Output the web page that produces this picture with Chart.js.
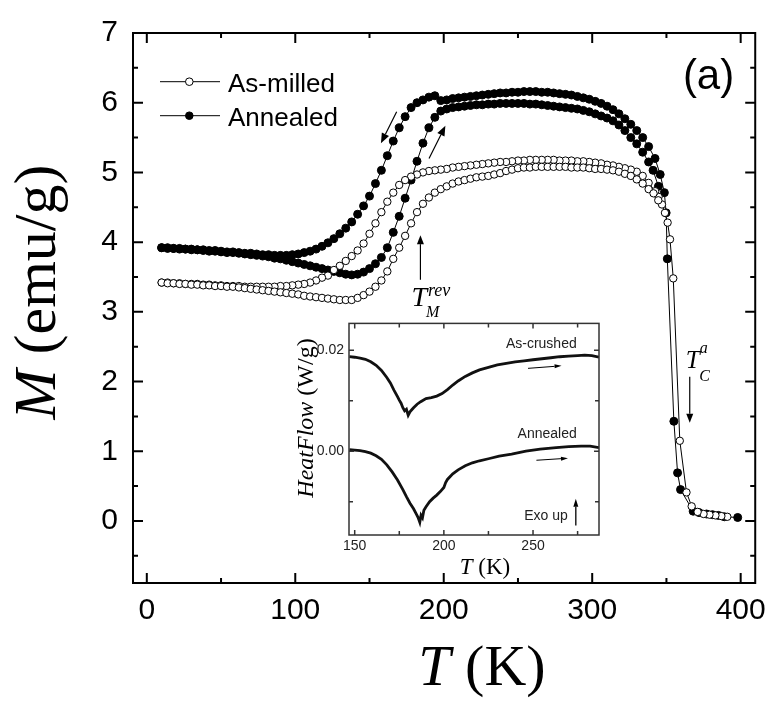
<!DOCTYPE html>
<html>
<head>
<meta charset="utf-8">
<script src="https://cdn.jsdelivr.net/npm/chart.js@4.4.0/dist/chart.umd.min.js"></script>
<style>
  body { margin: 0; background: #fff; overflow: hidden; }
  #wrap { position: relative; width: 776px; height: 701px; }
  #mainChart { position: absolute; left: 0; top: 0; }
  #insetChart { position: absolute; left: 290px; top: 310px; }
</style>
</head>
<body>
<div id="wrap">
  <canvas id="mainChart" width="776" height="701"></canvas>
  <canvas id="insetChart" width="320" height="280"></canvas>
</div>
<script>
// temperature grid of the warming / cooling sweeps below Tc (K)
const tempGrid = [
  10, 14, 18, 22, 26, 30, 34, 38, 42, 46,
  50, 54, 58, 62, 66, 70, 74, 78, 82, 86,
  90, 94, 98, 102, 106, 110, 114, 118, 122, 126,
  130, 134, 138, 142, 146, 150, 154, 158, 162, 166,
  170, 174, 178, 182, 186, 190, 194, 198, 202, 206,
  210, 214, 218, 222, 226, 230, 234, 238, 242, 246,
  250, 254, 258, 262, 266, 270, 274, 278, 282, 286,
  290, 294, 298, 302, 306, 310, 314, 318, 322, 326,
  330, 334, 338
];

// magnetization (emu/g) on tempGrid
const milledCoolM = [
  3.42, 3.42, 3.41, 3.41, 3.40, 3.40, 3.40, 3.39, 3.39, 3.38,
  3.38, 3.37, 3.37, 3.37, 3.36, 3.36, 3.36, 3.36, 3.36, 3.36,
  3.37, 3.37, 3.38, 3.39, 3.40, 3.42, 3.45, 3.49, 3.52, 3.60,
  3.66, 3.73, 3.80, 3.88, 3.98, 4.12, 4.27, 4.43, 4.58, 4.71,
  4.82, 4.89, 4.94, 4.97, 5.00, 5.02, 5.03, 5.04, 5.05, 5.07,
  5.08, 5.09, 5.10, 5.11, 5.12, 5.13, 5.14, 5.15, 5.15, 5.16,
  5.17, 5.17, 5.18, 5.18, 5.18, 5.18, 5.18, 5.17, 5.17, 5.17,
  5.16, 5.16, 5.15, 5.14, 5.13, 5.11, 5.10, 5.08, 5.06, 5.04,
  5.01, 4.95, 4.85
];
const milledHeatM = [
  3.42, 3.41, 3.41, 3.40, 3.40, 3.39, 3.39, 3.38, 3.38, 3.37,
  3.37, 3.36, 3.36, 3.35, 3.34, 3.33, 3.32, 3.31, 3.30, 3.29,
  3.28, 3.27, 3.26, 3.25, 3.23, 3.22, 3.21, 3.20, 3.19, 3.18,
  3.17, 3.17, 3.17, 3.20, 3.24, 3.29, 3.36, 3.45, 3.58, 3.76,
  3.92, 4.09, 4.27, 4.43, 4.55, 4.64, 4.71, 4.76, 4.80, 4.84,
  4.87, 4.89, 4.91, 4.93, 4.94, 4.95, 4.97, 4.99, 5.02, 5.04,
  5.06, 5.07, 5.07, 5.08, 5.08, 5.08, 5.08, 5.08, 5.08, 5.07,
  5.07, 5.07, 5.06, 5.05, 5.05, 5.04, 5.03, 5.01, 4.98, 4.95,
  4.90, 4.84, 4.76
];
const annealedCoolM = [
  3.92, 3.92, 3.91, 3.91, 3.90, 3.90, 3.89, 3.89, 3.88, 3.88,
  3.87, 3.86, 3.86, 3.85, 3.84, 3.84, 3.83, 3.82, 3.82, 3.81,
  3.81, 3.81, 3.82, 3.83, 3.85, 3.87, 3.90, 3.94, 3.99, 4.05,
  4.12, 4.20, 4.29, 4.40, 4.52, 4.66, 4.84, 5.03, 5.24, 5.45,
  5.64, 5.80, 5.93, 6.00, 6.04, 6.08, 6.10, 6.03, 6.04, 6.06,
  6.07, 6.08, 6.09, 6.10, 6.11, 6.12, 6.13, 6.14, 6.14, 6.15,
  6.15, 6.16, 6.16, 6.16, 6.15, 6.15, 6.14, 6.13, 6.12, 6.11,
  6.09, 6.07, 6.05, 6.02, 5.99, 5.95, 5.90, 5.84, 5.77, 5.69,
  5.60, 5.50, 5.37
];
const annealedHeatM = [
  3.92, 3.91, 3.91, 3.90, 3.90, 3.89, 3.89, 3.88, 3.87, 3.87,
  3.86, 3.85, 3.85, 3.84, 3.83, 3.82, 3.81, 3.80, 3.79, 3.77,
  3.76, 3.74, 3.72, 3.70, 3.68, 3.66, 3.64, 3.62, 3.60, 3.58,
  3.56, 3.54, 3.53, 3.54, 3.57, 3.62, 3.69, 3.78, 3.92, 4.14,
  4.37, 4.63, 4.89, 5.16, 5.42, 5.64, 5.79, 5.88, 5.91, 5.93,
  5.94, 5.95, 5.96, 5.97, 5.97, 5.98, 5.98, 5.99, 5.99, 5.99,
  5.99, 5.99, 5.98, 5.98, 5.97, 5.96, 5.95, 5.94, 5.93, 5.92,
  5.91, 5.89, 5.87, 5.84, 5.81, 5.78, 5.74, 5.68, 5.60, 5.50,
  5.41, 5.29, 5.15
];

// sparse points through the Curie drop, cooling from 400 K
const milledTailT = [391, 387, 383, 379, 375, 371, 367, 363.5, 359, 354.6, 352.4, 350.8, 349, 347, 344.7, 342.4];
const milledTailM = [0.06, 0.07, 0.08, 0.09, 0.10, 0.13, 0.21, 0.41, 1.15, 3.48, 4.04, 4.28, 4.42, 4.54, 4.65, 4.73];
const annealedTailT = [398, 389, 385, 381, 377, 372, 368, 359.5, 357.5, 355, 350.6, 349.8, 348.6, 345.8, 342.3];
const annealedTailM = [0.05, 0.06, 0.08, 0.09, 0.10, 0.12, 0.14, 0.45, 0.69, 1.43, 3.76, 4.42, 4.71, 4.97, 5.20];
// last warming points before Tc
const milledEndT = [341.3, 344.5];
const milledEndM = [4.70, 4.60];
const annealedEndT = [341, 344.6];
const annealedEndM = [5.03, 4.80];

const xTicks = [0, 100, 200, 300, 400];
const xMinor = [50, 150, 250, 350];
const yTicks = [0, 1, 2, 3, 4, 5, 6, 7];
const yMinor = [-0.5, 0.5, 1.5, 2.5, 3.5, 4.5, 5.5, 6.5];

// DSC traces for the inset (W/g)
const dscTCrushed = [147, 150, 153, 156, 159, 162, 165, 168, 170, 172, 174, 175, 176, 177, 178, 179, 180, 181, 182, 183,
  185, 187, 190, 193, 196, 199, 202, 205, 208, 212, 216, 220, 225, 230, 235, 240, 245, 250, 255, 260, 265, 270, 275,
  279, 283, 287];
const dscCrushed = [0.0187, 0.0186, 0.0184, 0.0182, 0.0177, 0.0170, 0.0160, 0.0146, 0.0135, 0.0121, 0.0108, 0.0101,
  0.0095, 0.0086, 0.0080, 0.0083, 0.0071, 0.0078, 0.0082, 0.0086, 0.0093, 0.0098, 0.0104, 0.0106, 0.0109, 0.0114,
  0.0122, 0.0131, 0.0139, 0.0148, 0.0155, 0.0161, 0.0166, 0.0171, 0.0174, 0.0177, 0.0179, 0.0181, 0.0183, 0.0185,
  0.0187, 0.0188, 0.0189, 0.0190, 0.0189, 0.0186];
const dscTAnnealed = [147, 150, 153, 156, 159, 162, 165, 168, 171, 174, 177, 179, 181, 183, 184.5, 185.5, 186.5, 187.2,
  188, 188.8, 190, 192, 194, 196, 198, 200, 201, 202, 205, 208, 212, 216, 220, 225, 231, 238, 246, 254, 263, 270, 277,
  282, 287];
const dscAnnealed = [0.0003, 0.0002, 0.0001, -0.0001, -0.0004, -0.0009, -0.0016, -0.0027, -0.0041, -0.0057, -0.0076,
  -0.0090, -0.0103, -0.0114, -0.0124, -0.0131, -0.0141, -0.0127, -0.0132, -0.0117, -0.0110, -0.0100, -0.0093, -0.0087,
  -0.0080, -0.0072, -0.0062, -0.0056, -0.0045, -0.0037, -0.0029, -0.0023, -0.0019, -0.0015, -0.0010, -0.0006, 0.0000,
  0.0004, 0.0007, 0.0009, 0.0010, 0.0010, 0.0007];
const insetXTicks = [150, 200, 250];
const insetXMinor = [175, 225, 275];
const insetYTicks = [0, 0.02];
const insetYMinor = [-0.01, 0.01];

const SANS = '"Liberation Sans", Arial, sans-serif';
const SERIF = '"Liberation Serif", "Times New Roman", serif';

// cooling run (400 K -> 10 K) followed by the warming run
function sweep(tailT, tailM, coolM, heatM, endT, endM) {
  const pts = [];
  tailT.forEach((t, i) => pts.push({ x: t, y: tailM[i] }));
  for (let i = tempGrid.length - 1; i >= 0; i--) pts.push({ x: tempGrid[i], y: coolM[i] });
  tempGrid.forEach((t, i) => pts.push({ x: t, y: heatM[i] }));
  endT.forEach((t, i) => pts.push({ x: t, y: endM[i] }));
  return pts;
}

function pairs(xs, ys) {
  return xs.map((x, i) => ({ x: x, y: ys[i] }));
}

function richText(ctx, parts, x, y, align) {
  let w = 0;
  parts.forEach(([t, f]) => { ctx.font = f; w += ctx.measureText(t).width; });
  let cx = align === 'center' ? x - w / 2 : (align === 'right' ? x - w : x);
  ctx.textAlign = 'left';
  ctx.textBaseline = 'alphabetic';
  parts.forEach(([t, f]) => { ctx.font = f; ctx.fillText(t, cx, y); cx += ctx.measureText(t).width; });
}

function arrow(ctx, x1, y1, x2, y2, head, half) {
  const ang = Math.atan2(y2 - y1, x2 - x1);
  const bx = x2 - head * Math.cos(ang), by = y2 - head * Math.sin(ang);
  ctx.beginPath();
  ctx.moveTo(x1, y1);
  ctx.lineTo(bx, by);
  ctx.stroke();
  ctx.beginPath();
  ctx.moveTo(x2, y2);
  ctx.lineTo(bx + half * Math.sin(ang), by - half * Math.cos(ang));
  ctx.lineTo(bx - half * Math.sin(ang), by + half * Math.cos(ang));
  ctx.closePath();
  ctx.fill();
}

// box around the plot with inward ticks on all four sides
function drawFrame(chart, o) {
  const { ctx, chartArea: a } = chart;
  const xs = chart.scales.x, ys = chart.scales.y;
  ctx.save();
  ctx.strokeStyle = o.color;
  ctx.lineWidth = o.width;
  ctx.strokeRect(a.left, a.top, a.right - a.left, a.bottom - a.top);
  ctx.beginPath();
  const xMark = (v, len) => {
    const p = xs.getPixelForValue(v);
    ctx.moveTo(p, a.bottom); ctx.lineTo(p, a.bottom - len);
    ctx.moveTo(p, a.top); ctx.lineTo(p, a.top + len);
  };
  const yMark = (v, len) => {
    const p = ys.getPixelForValue(v);
    ctx.moveTo(a.left, p); ctx.lineTo(a.left + len, p);
    ctx.moveTo(a.right, p); ctx.lineTo(a.right - len, p);
  };
  o.xMajor.forEach(v => xMark(v, o.major));
  o.xMinor.forEach(v => xMark(v, o.minor));
  o.yMajor.forEach(v => yMark(v, o.major));
  o.yMinor.forEach(v => yMark(v, o.minor));
  ctx.stroke();
  ctx.restore();
}

const mainDecor = {
  id: 'mainDecor',
  afterDraw(chart) {
    const { ctx, chartArea: a } = chart;
    const xs = chart.scales.x, ys = chart.scales.y;
    const px = v => xs.getPixelForValue(v);
    const py = v => ys.getPixelForValue(v);

    drawFrame(chart, { color: '#000', width: 2, major: 10, minor: 5,
      xMajor: xTicks, xMinor: xMinor, yMajor: yTicks, yMinor: yMinor });

    ctx.save();
    ctx.fillStyle = '#000';
    ctx.strokeStyle = '#000';

    // axis titles
    richText(ctx, [['T', 'italic 58px ' + SERIF], [' (K)', '58px ' + SERIF]], 482, 685, 'center');
    ctx.save();
    ctx.translate(55, 292);
    ctx.rotate(-Math.PI / 2);
    richText(ctx, [['M', 'italic 60px ' + SERIF], [' (emu/g)', '60px ' + SERIF]], 0, 0, 'center');
    ctx.restore();

    // legend
    const rows = [
      { label: 'As-milled', fill: '#fff', y: a.top + 48.7, base: a.top + 59 },
      { label: 'Annealed', fill: '#000', y: a.top + 82.7, base: a.top + 93 }
    ];
    rows.forEach(r => {
      ctx.lineWidth = 1;
      ctx.beginPath();
      ctx.moveTo(a.left + 27, r.y);
      ctx.lineTo(a.left + 87, r.y);
      ctx.stroke();
      ctx.beginPath();
      ctx.arc(a.left + 56.3, r.y, 3.8, 0, Math.PI * 2);
      ctx.fillStyle = r.fill;
      ctx.fill();
      ctx.stroke();
      ctx.fillStyle = '#000';
      ctx.font = '26px ' + SANS;
      ctx.textAlign = 'left';
      ctx.textBaseline = 'alphabetic';
      ctx.fillText(r.label, a.left + 95, r.base);
    });

    // panel tag
    ctx.font = '42px ' + SANS;
    ctx.textAlign = 'right';
    ctx.fillText('(a)', a.right - 21, a.top + 56);

    // sweep direction arrows
    ctx.lineWidth = 1.2;
    arrow(ctx, px(168.3), py(5.87), px(157.7), py(5.42), 10, 4);
    arrow(ctx, px(190.1), py(5.20), px(201.1), py(5.67), 10, 4);

    // reverse martensitic transformation marker
    arrow(ctx, px(184.3), py(3.46), px(184.3), py(4.10), 9, 3.5);
    const tm = { x: px(178.3), y: py(3.08) };
    richText(ctx, [['T', 'italic 28px ' + SERIF]], tm.x, tm.y, 'left');
    richText(ctx, [['rev', 'italic 18px ' + SERIF]], tm.x + 16.5, tm.y - 10, 'left');
    richText(ctx, [['M', 'italic 16px ' + SERIF]], tm.x + 14.5, tm.y + 11, 'left');

    // Curie temperature of the austenite
    arrow(ctx, px(365.7), py(2.07), px(365.7), py(1.41), 9, 3.5);
    const tc = { x: px(363), y: py(2.19) };
    richText(ctx, [['T', 'italic 25px ' + SERIF]], tc.x, tc.y, 'left');
    richText(ctx, [['a', 'italic 16px ' + SERIF]], tc.x + 14, tc.y - 15, 'left');
    richText(ctx, [['C', 'italic 16px ' + SERIF]], tc.x + 13.5, tc.y + 13, 'left');
    ctx.restore();
  }
};

new Chart(document.getElementById('mainChart'), {
  type: 'scatter',
  data: {
    datasets: [
      {
        label: 'As-milled',
        data: sweep(milledTailT, milledTailM, milledCoolM, milledHeatM, milledEndT, milledEndM),
        showLine: true,
        borderColor: '#000',
        borderWidth: 1,
        pointRadius: 3.7,
        pointBackgroundColor: '#fff',
        pointBorderColor: '#000',
        pointBorderWidth: 1
      },
      {
        label: 'Annealed',
        data: sweep(annealedTailT, annealedTailM, annealedCoolM, annealedHeatM, annealedEndT, annealedEndM),
        showLine: true,
        borderColor: '#000',
        borderWidth: 1,
        pointRadius: 4,
        pointBackgroundColor: '#000',
        pointBorderColor: '#000',
        pointBorderWidth: 1
      }
    ]
  },
  options: {
    responsive: false,
    animation: false,
    layout: { padding: { top: 24, right: 13, left: 0, bottom: 0 } },
    plugins: { legend: { display: false }, tooltip: { enabled: false } },
    scales: {
      x: {
        min: -9.3,
        max: 409.8,
        grid: { display: false, drawTicks: false },
        border: { display: false },
        afterBuildTicks: s => { s.ticks = xTicks.map(v => ({ value: v })); },
        afterFit: s => { s.height = 118; },
        ticks: { color: '#000', padding: 10, autoSkip: false, maxRotation: 0, font: { family: SANS, size: 30 } }
      },
      y: {
        min: -0.89,
        max: 7,
        grid: { display: false, drawTicks: false },
        border: { display: false },
        afterBuildTicks: s => { s.ticks = yTicks.map(v => ({ value: v })); },
        afterFit: s => { s.width = 133; },
        ticks: { color: '#000', padding: 15, autoSkip: false, font: { family: SANS, size: 30 } }
      }
    }
  },
  plugins: [mainDecor]
});

const insetDecor = {
  id: 'insetDecor',
  beforeDatasetsDraw(chart) {
    const { ctx, chartArea: a } = chart;
    ctx.save();
    ctx.fillStyle = '#fff';
    ctx.fillRect(a.left, a.top, a.right - a.left, a.bottom - a.top);
    ctx.restore();
  },
  afterDraw(chart) {
    const { ctx } = chart;
    const xs = chart.scales.x, ys = chart.scales.y;
    const px = v => xs.getPixelForValue(v);
    const py = v => ys.getPixelForValue(v);

    drawFrame(chart, { color: '#333', width: 1.5, major: 5, minor: 4,
      xMajor: insetXTicks, xMinor: insetXMinor, yMajor: insetYTicks, yMinor: insetYMinor });

    ctx.save();
    ctx.fillStyle = '#000';
    ctx.strokeStyle = '#000';
    richText(ctx, [['T', 'italic 23px ' + SERIF], [' (K)', '23px ' + SERIF]], 195, 264, 'center');
    ctx.save();
    ctx.translate(23, 108);
    ctx.rotate(-Math.PI / 2);
    richText(ctx, [['HeatFlow', 'italic 24px ' + SERIF], [' (W/g)', '24px ' + SERIF]], 0, 0, 'center');
    ctx.restore();

    ctx.fillStyle = '#222';
    richText(ctx, [['As-crushed', '14px ' + SANS]], px(274.5), py(0.0205), 'right');
    richText(ctx, [['Annealed', '14px ' + SANS]], px(274.5), py(0.0027), 'right');
    richText(ctx, [['Exo up', '14px ' + SANS]], px(269.5), py(-0.0137), 'right');

    ctx.fillStyle = '#000';
    ctx.lineWidth = 1;
    arrow(ctx, px(247.2), py(0.0164), px(266), py(0.0169), 7, 2);
    arrow(ctx, px(251.9), py(-0.0018), px(269.6), py(-0.0014), 7, 2);
    ctx.lineWidth = 1.3;
    arrow(ctx, px(274), py(-0.0147), px(274), py(-0.0094), 8, 2.5);
    ctx.restore();
  }
};

new Chart(document.getElementById('insetChart'), {
  type: 'scatter',
  data: {
    datasets: [
      { label: 'As-crushed', data: pairs(dscTCrushed, dscCrushed), showLine: true,
        borderColor: '#111', borderWidth: 2.8, pointRadius: 0 },
      { label: 'Annealed', data: pairs(dscTAnnealed, dscAnnealed), showLine: true,
        borderColor: '#111', borderWidth: 2.8, pointRadius: 0 }
    ]
  },
  options: {
    responsive: false,
    animation: false,
    layout: { padding: { top: 11, right: 11, left: 0, bottom: 0 } },
    plugins: { legend: { display: false }, tooltip: { enabled: false } },
    scales: {
      x: {
        min: 146.8,
        max: 287,
        grid: { display: false, drawTicks: false },
        border: { display: false },
        afterBuildTicks: s => { s.ticks = insetXTicks.map(v => ({ value: v })); },
        afterFit: s => { s.height = 55; },
        ticks: { color: '#222', padding: 3, autoSkip: false, maxRotation: 0, font: { family: SANS, size: 14 } }
      },
      y: {
        min: -0.0166,
        max: 0.0253,
        grid: { display: false, drawTicks: false },
        border: { display: false },
        afterBuildTicks: s => { s.ticks = insetYTicks.map(v => ({ value: v })); },
        afterFit: s => { s.width = 59; },
        ticks: { color: '#222', padding: 5, autoSkip: false, font: { family: SANS, size: 14 },
          callback: v => v.toFixed(2) }
      }
    }
  },
  plugins: [insetDecor]
});
</script>
</body>
</html>
